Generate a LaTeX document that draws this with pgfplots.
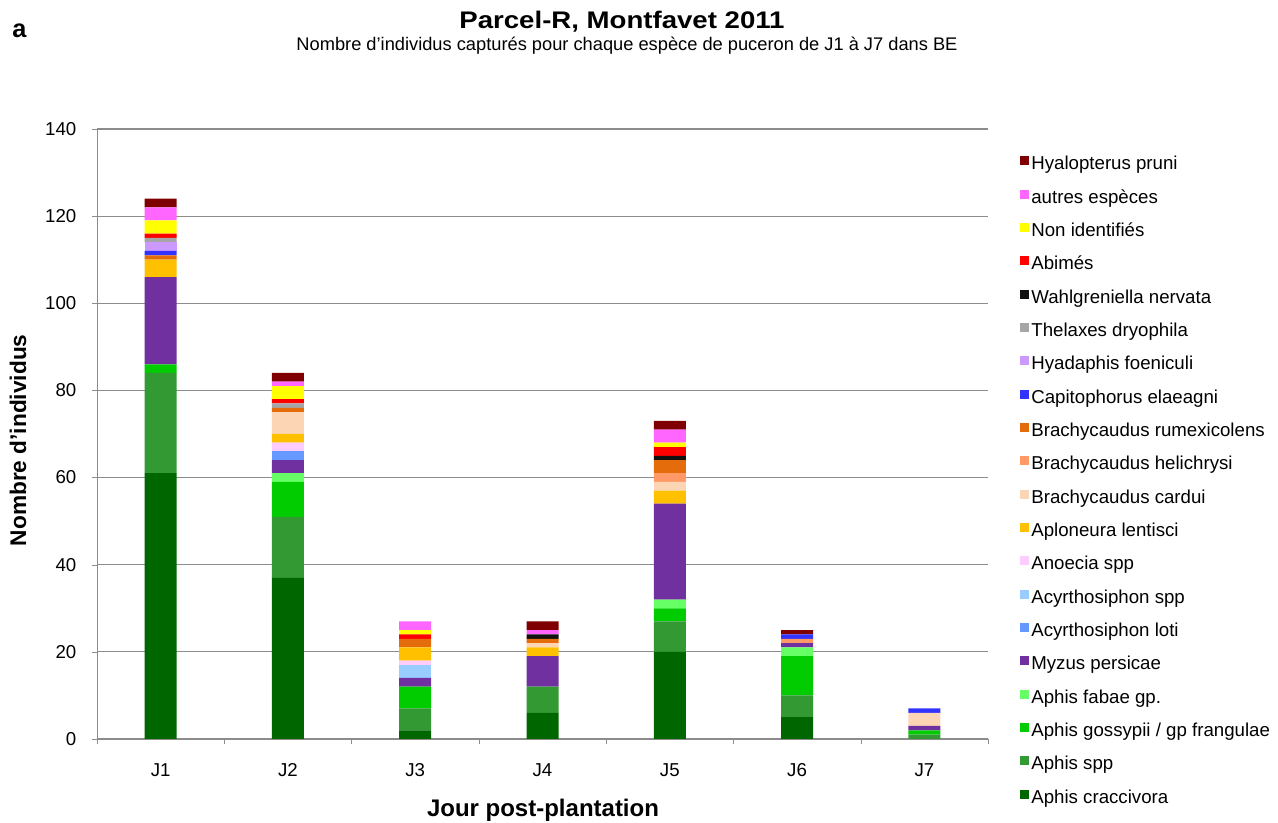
\documentclass[border=0pt]{standalone}
\usepackage{fontspec}
\setmainfont{Liberation Sans}
\usepackage{pgfplots}
\usepackage{pgfplotstable}
\pgfplotsset{compat=1.18}

\definecolor{cHyal}{HTML}{7F0000}
\definecolor{cAut}{HTML}{FF66FF}
\definecolor{cNon}{HTML}{FFFF00}
\definecolor{cAbi}{HTML}{FF0000}
\definecolor{cWah}{HTML}{111111}
\definecolor{cThe}{HTML}{A6A6A6}
\definecolor{cHya}{HTML}{CC99FF}
\definecolor{cCap}{HTML}{3333FF}
\definecolor{cRum}{HTML}{E46C0A}
\definecolor{cHel}{HTML}{FF9966}
\definecolor{cCar}{HTML}{FCD5B5}
\definecolor{cApl}{HTML}{FFC000}
\definecolor{cAno}{HTML}{FFCCFF}
\definecolor{cAcs}{HTML}{99CCFF}
\definecolor{cLot}{HTML}{6699FF}
\definecolor{cMyz}{HTML}{7030A0}
\definecolor{cFab}{HTML}{66FF66}
\definecolor{cGos}{HTML}{00CC00}
\definecolor{cSpp}{HTML}{339933}
\definecolor{cCra}{HTML}{006600}
\definecolor{axgray}{HTML}{8C8C8C}

% counts per day (J1..J7), one column per species, bottom to top
\pgfplotstableread{
x crac spp goss fab myz loti acs ano apl card heli rum cap hya the wah abi non aut hyal
1 61 23 2 0 20 0 0 0 4 0 0 1 1 2 1 0 1 3 3 2
2 37 14 8 2 3 2 0 2 2 5 0 1 0 0 1 0 1 3 1 2
3 2 5 5 0 2 0 3 1 3 0 0 2 0 0 0 0 1 1 2 0
4 6 6 0 0 7 0 0 0 2 1 0 1 0 0 0 1 0 0 1 2
5 20 7 3 2 22 0 0 0 3 2 2 3 0 0 0 1 2 1 3 2
6 5 5 9 2 1 0 0 0 0 0 1 0 1 0 0 0 0 0 0 1
7 0 1 1 0 1 0 0 0 0 3 0 0 1 0 0 0 0 0 0 0
}\counts

\begin{document}
\begin{tikzpicture}
\path[use as bounding box] (0,0) rectangle (958.5pt,617.25pt);
\begin{axis}[
    at={(72.75pt,63pt)}, anchor=south west,
    scale only axis,
    width=668.25pt, height=457.5pt,
    ybar stacked, bar width=24pt,
    xmin=0.5, xmax=7.5,
    ymin=0, ymax=140,
    axis lines=left,
    axis line style={-, draw=axgray},
    ytick={0,20,...,140},
    ymajorgrids,
    grid style={draw=axgray, line width=0.8pt},
    tick align=outside,
    major tick length=4pt,
    tick style={draw=axgray},
    xtick={0.5,1.5,...,7.5},
    xticklabels={},
    extra x ticks={1,2,3,4,5,6,7},
    extra x tick labels={J1,J2,J3,J4,J5,J6,J7},
    extra x tick style={major tick length=0pt, grid=none},
    xticklabel style={yshift=-15pt},
    yticklabel style={xshift=-8pt},
    ticklabel style={font=\fontsize{14}{16}\selectfont},
    /pgf/number format/assume math mode=true,
    reverse legend,
    legend cell align=left,
    legend image code/.code={\fill[#1] (0pt,0pt) rectangle (6.8pt,6.8pt);},
    legend style={
        at={(689.25pt,441pt)}, anchor=north west,
        draw=none, fill=none,
        font=\fontsize{14}{16}\selectfont,
        row sep=8pt,
        nodes={inner sep=1.5pt, text height=10.5pt, text depth=3.5pt},
    },
    every axis plot/.append style={draw=none},
]
\addplot[fill=cCra] table[x=x,y=crac] {\counts};
\addlegendentry{Aphis craccivora}
\addplot[fill=cSpp] table[x=x,y=spp] {\counts};
\addlegendentry{Aphis spp}
\addplot[fill=cGos] table[x=x,y=goss] {\counts};
\addlegendentry{Aphis gossypii / gp frangulae}
\addplot[fill=cFab] table[x=x,y=fab] {\counts};
\addlegendentry{Aphis fabae gp.}
\addplot[fill=cMyz] table[x=x,y=myz] {\counts};
\addlegendentry{Myzus persicae}
\addplot[fill=cLot] table[x=x,y=loti] {\counts};
\addlegendentry{Acyrthosiphon loti}
\addplot[fill=cAcs] table[x=x,y=acs] {\counts};
\addlegendentry{Acyrthosiphon spp}
\addplot[fill=cAno] table[x=x,y=ano] {\counts};
\addlegendentry{Anoecia spp}
\addplot[fill=cApl] table[x=x,y=apl] {\counts};
\addlegendentry{Aploneura lentisci}
\addplot[fill=cCar] table[x=x,y=card] {\counts};
\addlegendentry{Brachycaudus cardui}
\addplot[fill=cHel] table[x=x,y=heli] {\counts};
\addlegendentry{Brachycaudus helichrysi}
\addplot[fill=cRum] table[x=x,y=rum] {\counts};
\addlegendentry{Brachycaudus rumexicolens}
\addplot[fill=cCap] table[x=x,y=cap] {\counts};
\addlegendentry{Capitophorus elaeagni}
\addplot[fill=cHya] table[x=x,y=hya] {\counts};
\addlegendentry{Hyadaphis foeniculi}
\addplot[fill=cThe] table[x=x,y=the] {\counts};
\addlegendentry{Thelaxes dryophila}
\addplot[fill=cWah] table[x=x,y=wah] {\counts};
\addlegendentry{Wahlgreniella nervata}
\addplot[fill=cAbi] table[x=x,y=abi] {\counts};
\addlegendentry{Abimés}
\addplot[fill=cNon] table[x=x,y=non] {\counts};
\addlegendentry{Non identifiés}
\addplot[fill=cAut] table[x=x,y=aut] {\counts};
\addlegendentry{autres espèces}
\addplot[fill=cHyal] table[x=x,y=hyal] {\counts};
\addlegendentry{Hyalopterus pruni}
\end{axis}
\node[font=\bfseries\fontsize{18}{20}\selectfont, xscale=1.15] at (466.5pt,601pt) {Parcel-R, Montfavet 2011};
\node[font=\fontsize{13.7}{15}\selectfont] at (470.25pt,583pt) {Nombre d'individus capturés pour chaque espèce de puceron de J1 à J7 dans BE};
\node[font=\bfseries\fontsize{19}{21}\selectfont] at (14.5pt,594pt) {a};
\node[font=\bfseries\fontsize{17}{19}\selectfont, rotate=90] at (13.5pt,287pt) {Nombre d'individus};
\node[font=\bfseries\fontsize{18}{20}\selectfont] at (407.25pt,9.75pt) {Jour post-plantation};
\end{tikzpicture}
\end{document}
